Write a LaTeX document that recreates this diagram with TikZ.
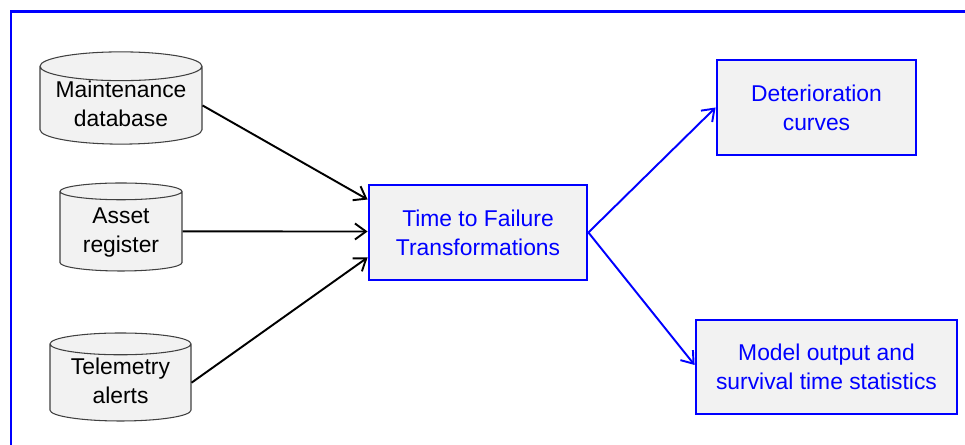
\documentclass[tikz,border=0pt]{standalone}
\usepackage{fontspec}
\setmainfont{Liberation Sans}
\usepackage{xcolor}
\usepackage{tikz}
\usetikzlibrary{positioning,arrows.meta,shapes.geometric}
\definecolor{boxgray}{HTML}{F2F2F2}
\definecolor{pureblue}{HTML}{0000FF}
\tikzset{
  store/.style ={draw=black!75, cylinder, shape border rotate=90, aspect=0.22, fill=boxgray, align=center, line width=0.6pt, inner sep=0pt, anchor=shape center, text depth=0.06cm},
  proc/.style  ={draw=pureblue, rectangle, align=center, fill=boxgray, text=pureblue, line width=1.6pt, minimum height=1.9cm},
  arr/.style   ={-{Straight Barb[length=2.2mm, width=3.2mm]}, line width=1.1pt},
  barr/.style  ={arr, draw=pureblue},
}

\begin{document}
\begin{tikzpicture}[font=\fontsize{13}{16.5}\selectfont]
  \useasboundingbox (0,0) rectangle (19.3,8.9);
  \begin{scope}
    \clip (0,0) rectangle (19.3,8.9);
    \draw[pureblue, line width=1.7pt] (0.22,-1) rectangle (20,8.66);
  \end{scope}

  % data sources
  \node[store, minimum width=3.24cm, minimum height=1.8cm] (maint) at (2.42,6.94) {Maintenance\\database};
  \node[store, minimum width=2.44cm, minimum height=1.76cm] (asset) at (2.42,4.36) {Asset\\register};
  \node[store, minimum width=2.82cm, minimum height=1.76cm] (telem) at (2.41,1.36) {Telemetry\\alerts};

  % processing and outputs
  \node[proc, minimum width=4.36cm] (ttf)   at (9.56,4.25)  {Time to Failure\\Transformations};
  \node[proc, minimum width=3.98cm] (curve) at (16.33,6.75) {Deterioration\\curves};
  \node[proc, minimum width=5.22cm, minimum height=1.88cm] (model) at (16.53,1.56) {Model output and\\survival time statistics};

  \draw[arr] (maint.east) -- ([yshift=0.66cm]ttf.west);
  \draw[arr] (asset.east) -- ([yshift=0.02cm]ttf.west);
  \draw[arr] (telem.east) -- ([yshift=-0.5cm]ttf.west);

  \draw[barr] (ttf.east) -- (curve.west);
  \draw[barr] (ttf.east) -- ([yshift=0.04cm]model.west);
\end{tikzpicture}
\end{document}
